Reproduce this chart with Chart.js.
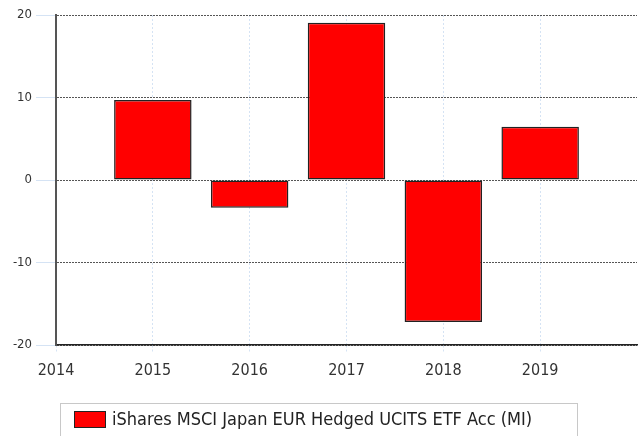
<!DOCTYPE html>
<html>
<head>
<meta charset="utf-8">
<script src="https://cdn.jsdelivr.net/npm/chart.js@4/dist/chart.umd.min.js"></script>
<style>
  html, body { margin: 0; padding: 0; background: #fff; }
  #wrap { width: 640px; height: 436px; position: relative; }
</style>
</head>
<body>
<div id="wrap"><canvas id="c" width="640" height="436"></canvas></div>
<script>
const years = [2015, 2016, 2017, 2018, 2019];
const returns = [9.7, -3.35, 19.07, -17.2, 6.46];
const seriesLabel = 'iShares MSCI Japan EUR Hedged UCITS ETF Acc (MI)';
const yTicks = [-20, -10, 0, 10, 20];
const xTickYears = [2014, 2015, 2016, 2017, 2018, 2019];

const FONT = "'DejaVu Sans Condensed', 'DejaVu Sans', sans-serif";

const legendPlugin = {
  id: 'boxLegend',
  afterDraw(chart) {
    const ctx = chart.ctx;
    const ds = chart.data.datasets[0];
    ctx.save();
    ctx.strokeStyle = '#c8c8c8';
    ctx.lineWidth = 1;
    ctx.strokeRect(60.5, 403.5, 517, 40);
    ctx.fillStyle = ds.backgroundColor;
    ctx.fillRect(74, 411, 32, 17);
    ctx.strokeStyle = '#222';
    ctx.strokeRect(74.5, 411.5, 31, 16);
    ctx.fillStyle = '#222';
    ctx.font = '18px ' + FONT;
    ctx.textBaseline = 'middle';
    ctx.textAlign = 'left';
    ctx.fillText(ds.label, 112, 420);
    ctx.restore();
  }
};

new Chart(document.getElementById('c'), {
  type: 'bar',
  data: {
    datasets: [{
      label: seriesLabel,
      data: years.map((y, i) => ({ x: y, y: returns[i] })),
      backgroundColor: '#ff0000',
      borderColor: '#222222',
      borderWidth: 1.5,
      borderSkipped: false,
      barPercentage: 1,
      categoryPercentage: 0.8
    }]
  },
  options: {
    responsive: false,
    animation: false,
    layout: { padding: { top: 15, left: 0, right: 3, bottom: 33 } },
    plugins: { legend: { display: false }, tooltip: { enabled: false } },
    scales: {
      x: {
        type: 'linear',
        offset: false,
        min: 2014,
        max: 2020,
        afterBuildTicks: (s) => { s.ticks = xTickYears.map(v => ({ value: v })); },
        afterFit: (s) => { s.height = 58; },
        ticks: {
          color: '#333',
          font: { family: FONT, size: 16 },
          padding: 8,
          maxRotation: 0,
          autoSkip: false,
          callback: (v) => String(v)
        },
        grid: {
          color: '#d5e3f4',
          lineWidth: 1,
          tickColor: '#d5e3f4',
          tickLength: 8,
          tickBorderDash: [2, 2],
          offset: false
        },
        border: { display: true, color: '#222', width: 1.5, dash: [2, 2] }
      },
      y: {
        min: -20,
        max: 20,
        afterBuildTicks: (s) => { s.ticks = yTicks.map(v => ({ value: v })); },
        afterFit: (s) => { s.width = 56; },
        ticks: {
          color: '#333',
          font: { family: FONT, size: 13 },
          padding: 4,
          callback: (v) => String(v)
        },
        grid: {
          color: '#555',
          lineWidth: 1,
          tickColor: '#d5e3f4',
          tickLength: 20,
          tickBorderDash: []
        },
        border: { display: true, color: '#555', width: 2, dash: [2, 1] }
      }
    }
  },
  plugins: [legendPlugin]
});
</script>
</body>
</html>
